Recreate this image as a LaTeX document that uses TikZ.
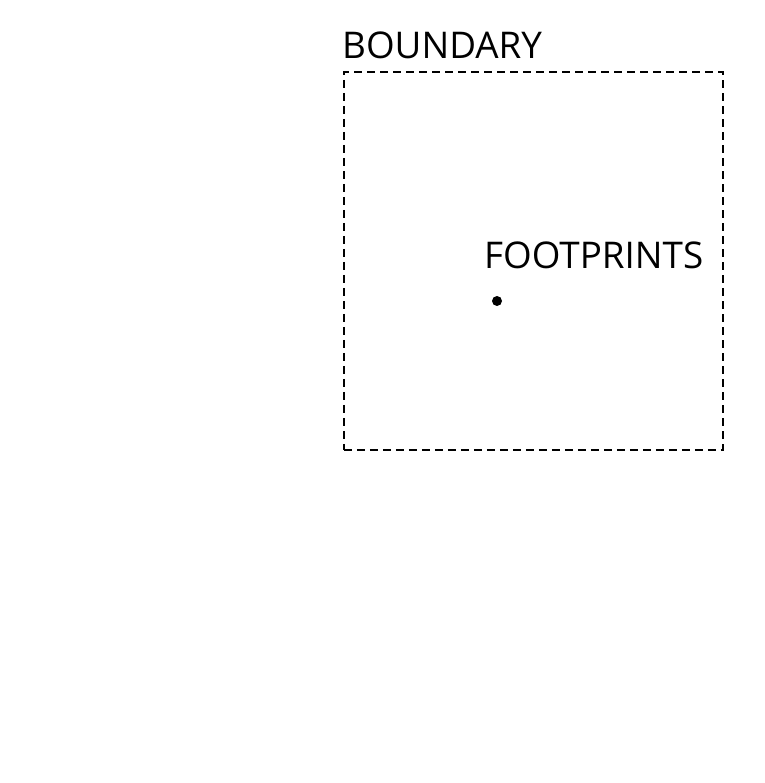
\documentclass[tikz,border=0pt]{standalone}
\usepackage{fontspec}
\setmainfont{Open Sans}
\begin{document}
\begin{tikzpicture}[x=1pt,y=-1pt,
  lbl/.style={anchor=base west,inner sep=0pt,font=\fontsize{36.8}{42}\selectfont},
  bnd/.style={draw=black,line width=1.8pt,dash pattern=on 8pt off 5pt}]
\useasboundingbox[fill=white] (0,0) rectangle (764,783);
\node[bnd,minimum width=379pt,minimum height=378pt,inner sep=0pt,anchor=north west] (box) at (343,71) {};
\node[lbl] (boundary) at (342,59) {BOUNDARY};
\node[lbl] (footprints) at (484,269) {FOOTPRINTS};
\fill (497,301) circle[radius=5pt] coordinate (dot);
\end{tikzpicture}
\end{document}
